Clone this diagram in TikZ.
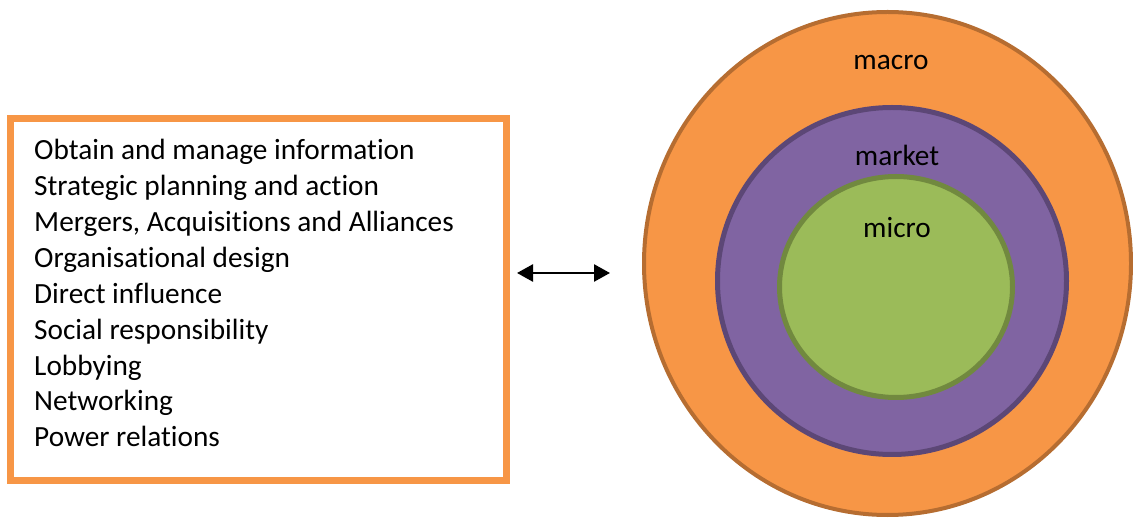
\documentclass[tikz,border=0pt]{standalone}
\usepackage{fontspec}
\setmainfont[Ligatures=NoCommon]{Carlito}
\usetikzlibrary{shapes.geometric,arrows.meta}
\definecolor{orangefill}{HTML}{F79646}
\definecolor{orangeline}{HTML}{B66D31}
\definecolor{purplefill}{HTML}{8064A2}
\definecolor{purpleline}{HTML}{5C4776}
\definecolor{greenfill}{HTML}{9BBB59}
\definecolor{greenline}{HTML}{71893F}
\tikzset{
  ring/.style={ellipse, inner sep=0pt},
  listitem/.style={anchor=base west, inner sep=0pt, font=\fontsize{29.3}{35.9}\selectfont},
  ringlabel/.style={inner sep=0pt, font=\fontsize{29.3}{35.9}\selectfont},
  biarrow/.style={line width=2.6pt, {Triangle[length=16pt,width=17pt]}-{Triangle[length=16pt,width=17pt]}}
}
\begin{document}
\begin{tikzpicture}[x=1pt,y=-1pt]
\useasboundingbox (0,0) rectangle (1133,518);
% list box
\node[draw=orangefill, line width=7pt, minimum width=496pt, minimum height=362pt, inner sep=0pt] (box) at (258.5,299.5) {};
\foreach \t [count=\i] in {Obtain and manage information,Strategic planning and action,{Mergers, Acquisitions and Alliances},Organisational design,Direct influence,Social responsibility,Lobbying,Networking,Power relations}
  \node[listitem] (l\i) at (34,{160+35.85*(\i-1)}) {\t};
% rings
\node[ring, draw=orangeline, fill=orangefill, line width=4pt, minimum width=487pt, minimum height=503pt] (macro) at (887.5,263.5) {};
\node[ring, draw=purpleline, fill=purplefill, line width=5pt, minimum width=349pt, minimum height=347pt] (market) at (892,281) {};
\node[ring, draw=greenline, fill=greenfill, line width=5pt, minimum width=233pt, minimum height=221pt] (micro) at (896,287) {};
\node[ringlabel] (tmacro) at (891,62) {macro};
\node[ringlabel] (tmarket) at (897,155) {market};
\node[ringlabel] (tmicro) at (897,228) {micro};
% arrow
\coordinate (aL) at (517,273);
\coordinate (aR) at (610,273);
\draw[biarrow] (aL) -- (aR);
\end{tikzpicture}
\end{document}
